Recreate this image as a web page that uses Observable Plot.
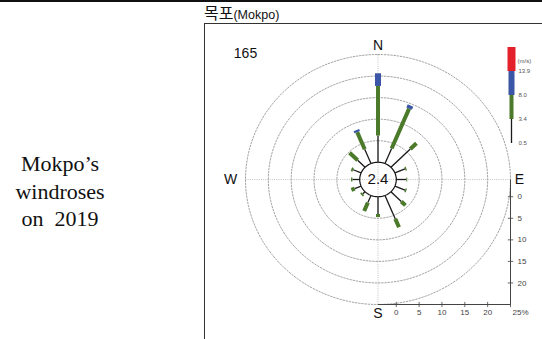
<!DOCTYPE html>
<html>
<head>
<meta charset="utf-8">
<script src="https://cdn.jsdelivr.net/npm/d3@7"></script>
<script src="https://cdn.jsdelivr.net/npm/@observablehq/plot@0.6"></script>
<style>
  html, body { margin: 0; padding: 0; background: #fff; }
  #page { position: relative; width: 542px; height: 339px; overflow: hidden; background: #fff; }
  .topbar { position: absolute; left: 0; top: 0; width: 542px; height: 2px; background: #111; }
  .frame { position: absolute; left: 204px; top: 23px; width: 400px; height: 400px;
           border-left: 1px solid #333; border-top: 1px solid #333; box-sizing: border-box; }
  .title { position: absolute; left: 204px; top: 2px; line-height: 20px; white-space: nowrap; color: #111; }
  .title .ko { font-family: "Noto Sans CJK KR", sans-serif; font-size: 16px; }
  .title .en { font-family: "Liberation Sans", Arial, sans-serif; font-size: 12.5px; }
  .side { position: absolute; left: 0; width: 120px; top: 150px; text-align: center;
          font-family: "Liberation Serif", "Times New Roman", serif; font-size: 22px;
          line-height: 27.5px; color: #111; white-space: pre; }
  #rose { position: absolute; left: 204px; top: 24px; }
  #legend { position: absolute; left: 498px; top: 40px; }
</style>
</head>
<body>
<div id="page">
  <div class="topbar"></div>
  <div class="frame"></div>
  <div class="title"><span class="ko">목포</span><span class="en">(Mokpo)</span></div>
  <div class="side" id="side"></div>
  <div id="rose"></div>
  <div id="legend"></div>
</div>
<script>
// Wind directions, clockwise from north
const directions = ["N","NNE","NE","ENE","E","ESE","SE","SSE","S","SSW","SW","WSW","W","WNW","NW","NNW"];

// Frequency (%) per direction for each wind-speed class
const speed05to34  = [6.2, 3.8, 6.0, 2.4, 2.2, 2.4, 3.2, 5.9, 4.0, 1.8, 0.7, 1.5, 1.6, 1.9, 2.3, 3.6];
const speed34to80  = [11.5, 10.0, 1.9, 0.3, 0.2, 0.3, 1.3, 2.1, 0.7, 2.1, 0.4, 0.8, 0.3, 0.4, 2.5, 4.3];
const speed80to139 = [2.95, 0.8, 0, 0, 0, 0, 0, 0, 0, 0, 0, 0, 0, 0, 0, 0.5];
const speedOver139 = [0, 0, 0, 0, 0, 0, 0, 0, 0, 0, 0, 0, 0, 0, 0, 0];

const calmPercent = 2.4;
const observationCount = 165;
const ringPercents = [5, 10, 15, 20, 25];
const percentTicks = [0, 5, 10, 15, 20, 25];
const speedBreaks = ["0.5", "3.4", "8.0", "13.9"];
const sideText = ["Mokpo\u2019s", "windroses", "on  2019"];

document.getElementById("side").textContent = sideText.join("\n");

// Drawing constants
const calmRadius = 4;            // radius of the calm circle, in % units
const outer = calmRadius + 25;   // outermost ring
const classColors = ["#1a1a1a", "#4b7a2b", "#3b56a6", "#e4212b"];
const classWidths = [1.3, 4, 6, 8];
const font = "'Liberation Sans', Arial, Helvetica, sans-serif";

const rad = d => d * Math.PI / 180;
const px = (r, a) => r * Math.sin(rad(a));
const py = (r, a) => r * Math.cos(rad(a));

// Stem segments: cumulative frequency per speed class along each direction
const classes = [speed05to34, speed34to80, speed80to139, speedOver139];
const segments = directions.flatMap((dir, i) => {
  let r = calmRadius;
  return classes.map((vals, k) => {
    const r0 = r; r += vals[i];
    return {dir, angle: i * 22.5, cls: k, r0, r1: r};
  }).filter(s => s.r1 > s.r0);
});

// Dotted percentage rings and the calm circle
const circlePts = (r, key) => d3.range(0, 361, 2).map(a => ({key, x: px(r, a), y: py(r, a)}));
const rings = ringPercents.flatMap(p => circlePts(calmRadius + p, p));
const calmRing = circlePts(calmRadius, "calm");

const axisInk = "#444";

const rose = Plot.plot({
  width: 338, height: 315,
  marginLeft: 41, marginRight: 32, marginTop: 30, marginBottom: 35,
  x: {domain: [-outer, outer], axis: null},
  y: {domain: [-outer, outer], axis: null},
  style: {background: "transparent", fontFamily: font, overflow: "visible"},
  marks: [
    // crosshair
    Plot.link([{x1: -outer, y1: 0, x2: outer, y2: 0}, {x1: 0, y1: -outer, x2: 0, y2: outer}],
      {x1: "x1", y1: "y1", x2: "x2", y2: "y2", stroke: "#b5b5b5", strokeWidth: 0.8, strokeDasharray: "1,1.2"}),
    // rings
    Plot.line(rings, {x: "x", y: "y", z: "key", stroke: "#8c8c8c", strokeWidth: 0.8, strokeDasharray: "1.6,1.6"}),
    Plot.line(calmRing, {x: "x", y: "y", stroke: "#111", strokeWidth: 1.2}),
    // stems, one mark per speed class
    ...classes.map((_, k) => Plot.link(segments.filter(s => s.cls === k), {
      x1: s => px(s.r0, s.angle), y1: s => py(s.r0, s.angle),
      x2: s => px(s.r1, s.angle), y2: s => py(s.r1, s.angle),
      stroke: classColors[k], strokeWidth: classWidths[k], strokeLinecap: "butt"
    })),
    // percentage scale along the bottom and right
    Plot.link([{x1: 0, y1: -outer, x2: outer, y2: -outer}, {x1: outer, y1: 0, x2: outer, y2: -outer}],
      {x1: "x1", y1: "y1", x2: "x2", y2: "y2", stroke: axisInk, strokeWidth: 1}),
    Plot.link(percentTicks, {x1: p => calmRadius + p, x2: p => calmRadius + p,
      y1: -outer - 0.6, y2: -outer + 0.6, stroke: axisInk, strokeWidth: 0.8}),
    Plot.link(percentTicks.slice(0, -1), {y1: p => -(calmRadius + p), y2: p => -(calmRadius + p),
      x1: outer - 0.6, x2: outer + 0.6, stroke: axisInk, strokeWidth: 0.8}),
    Plot.text(percentTicks.slice(0, -1), {x: p => calmRadius + p, y: -outer, text: p => String(p),
      dy: 8, fontSize: 8, fill: axisInk}),
    Plot.text(percentTicks.slice(-1), {x: p => calmRadius + p, y: -outer, text: p => p + "%",
      dy: 8, dx: 2, textAnchor: "start", fontSize: 8, fill: axisInk}),
    Plot.text(percentTicks.slice(0, -1), {x: outer, y: p => -(calmRadius + p), text: p => String(p),
      dx: 7, textAnchor: "start", fontSize: 8, fill: axisInk}),
    // compass letters
    Plot.text(["N"], {x: 0, y: outer, text: d => d, dy: -9, fontSize: 14, fill: "#111"}),
    Plot.text(["S"], {x: 0, y: -outer, text: d => d, dy: 9, fontSize: 14, fill: "#111"}),
    Plot.text(["E"], {x: outer, y: 0, text: d => d, dx: 9, fontSize: 14, fill: "#111"}),
    Plot.text(["W"], {x: -outer, y: 0, text: d => d, dx: -15, fontSize: 14, fill: "#111"}),
    // calm percentage and observation count
    Plot.text([calmPercent], {x: 0, y: 0, text: d => d.toFixed(1), fontSize: 15, fill: "#111"}),
    Plot.text([observationCount], {frameAnchor: "top-left", text: d => String(d), dy: -6,
      textAnchor: "middle", fontSize: 14, fill: "#111"})
  ]
});
document.getElementById("rose").appendChild(rose);

// Speed-class key
const classIndex = classes.map((_, k) => k);
const legend = Plot.plot({
  width: 44, height: 110,
  marginLeft: 13, marginRight: 30, marginTop: 7, marginBottom: 7,
  x: {domain: [0, 1], axis: null},
  y: {domain: [0, classes.length], axis: null},
  style: {background: "transparent", fontFamily: font, overflow: "visible"},
  marks: [
    ...classIndex.map(k => Plot.ruleX([k], {x: 0, y1: d => d, y2: d => d + 1,
      stroke: classColors[k], strokeWidth: classWidths[k]})),
    Plot.text(speedBreaks, {x: 0, y: (d, i) => i, text: d => d, dx: 7, textAnchor: "start",
      fontSize: 6, fill: "#555"}),
    Plot.text(["(m/s)"], {x: 0, y: speedBreaks.length - 1, text: d => d, dx: 6, dy: -10,
      textAnchor: "start", fontSize: 6, fill: "#555"})
  ]
});
document.getElementById("legend").appendChild(legend);
</script>
</body>
</html>
